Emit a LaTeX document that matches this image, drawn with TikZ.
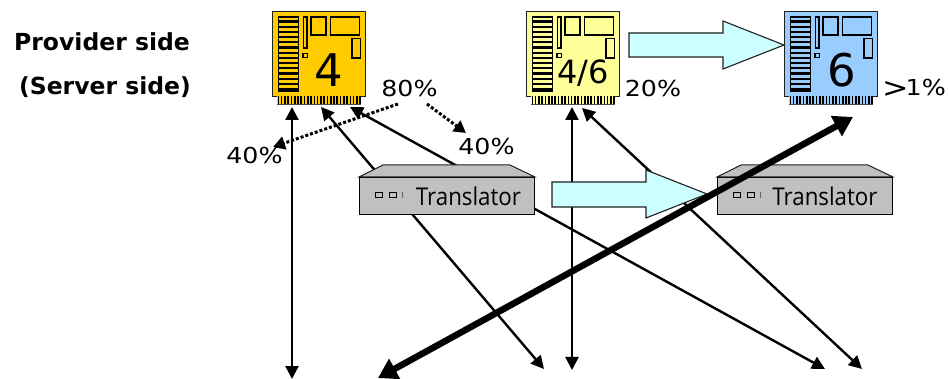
\documentclass[tikz,border=0pt]{standalone}
\usepackage{graphicx}
\usepackage{fontspec}
\setmainfont{DejaVu Sans}
\newfontfamily\trfont[FakeStretch=0.91]{Open Sans}
\newfontfamily\pctfont[FakeStretch=1.15]{DejaVu Sans}
\usetikzlibrary{arrows.meta}
\definecolor{cardorange}{HTML}{FFCC00}
\definecolor{cardyellow}{HTML}{FFFF99}
\definecolor{cardblue}{HTML}{99CCFF}
\definecolor{blockcyan}{HTML}{CCFFFF}
\definecolor{boxgray}{HTML}{C0C0C0}
\definecolor{edgegray}{HTML}{202020}
\tikzset{
  x=1pt,y=-1pt,
  cardbody/.style={draw=edgegray,line width=1pt,inner sep=0pt,minimum width=93pt,minimum height=85pt,anchor=north west},
  part/.style={draw=black,line width=1.1pt},
  flow/.style={line width=2.4pt,{Triangle[length=13pt,width=13pt]}-{Triangle[length=13pt,width=13pt]}},
  heavy/.style={line width=6.5pt,{Triangle[length=19pt,width=22pt]}-{Triangle[length=19pt,width=22pt]}},
  share/.style={line width=3pt,dash pattern=on 3pt off 2pt,-{Triangle[length=12pt,width=13pt]}},
  block/.style={draw=edgegray,line width=1.1pt,fill=blockcyan},
  trbox/.style={draw=black,line width=1pt,fill=boxgray,inner sep=0pt,minimum width=175pt,minimum height=37pt,anchor=north west},
  trtop/.style={draw=edgegray,line width=1pt,fill=boxgray},
  trtext/.style={font=\trfont\fontsize{24.5}{26}\selectfont,inner sep=0pt,text=black},
  pct/.style={font=\pctfont\fontsize{22}{24}\selectfont,inner sep=0pt},
  digit/.style={inner sep=0pt},
  heading/.style={font=\bfseries\fontsize{23.5}{26}\selectfont,inner sep=0pt},
}
\newcommand{\drawcard}[3]{%
  \node[cardbody,fill=#2] (#3) at (#1,11) {};
  \begin{scope}[shift={(#1,0)}]
    \fill[#2] (5,96) rectangle (89,104);
    \foreach \t in {0,...,25} {\fill[black] ({5.6+\t*3.27},96) rectangle ++(1.6,8);}
    \draw[black!70,line width=0.8pt] (5,104) -- (89,104);
    \draw[part] (6.7,17) rectangle (26.7,91);
    \foreach \s in {0,...,13} {\fill[black] (6.7,{20.5+\s*5.2}) rectangle (26.7,{22.7+\s*5.2});}
    \draw[part] (31.7,17) rectangle (35,48);
    \draw[part] (39,17) rectangle (54,35);
    \draw[part] (58.7,17) rectangle (87.3,35);
    \draw[part] (80,38.7) rectangle (88.3,58);
    \draw[part] (31,53.3) rectangle (35.7,57.7);
  \end{scope}
}
\newcommand{\drawtranslator}[2]{%
  \node[trbox] (#2) at (#1,177) {};
  \draw[trtop] (#2.north west) -- ++(24,-12) -- ++(127,0) -- (#2.north east) -- cycle;
  \begin{scope}[shift={(#1,0)}]
    \draw[black,line width=0.9pt,fill=boxgray] (16.5,192.5) rectangle (23,197.5);
    \draw[black,line width=0.9pt,fill=boxgray] (30.5,192.5) rectangle (37,197.5);
    \draw[black!60,line width=0.6pt] (43,192) -- (43,198);
  \end{scope}
}
\begin{document}
\begin{tikzpicture}
\useasboundingbox (0,0) rectangle (948,379);
% free ends of the connectors
\coordinate (v1t) at (292,107);
\coordinate (v1b) at (292,379);
\coordinate (d1a) at (321,107);
\coordinate (d1b) at (544,369);
\coordinate (d2a) at (350,107);
\coordinate (d2b) at (825,369);
\coordinate (v2t) at (572,107);
\coordinate (v2b) at (572,370);
\coordinate (d3a) at (582,108);
\coordinate (d3b) at (862,369);
\coordinate (ha) at (853,117);
\coordinate (hb) at (378,378);
\coordinate (s0a) at (398,104);
\coordinate (s0b) at (273,147);
\coordinate (s1a) at (427,104);
\coordinate (s1b) at (466,133);
% thin connectors lie beneath the boxes
\draw[flow] (v1t) -- (v1b);
\draw[flow] (v2t) -- (v2b);
\draw[flow] (d1a) -- (d1b);
\draw[flow] (d2a) -- (d2b);
\draw[flow] (d3a) -- (d3b);
\drawcard{272}{cardorange}{cardA}
\drawcard{526}{cardyellow}{cardB}
\drawcard{784}{cardblue}{cardC}
\node[digit,font=\fontsize{45}{50}\selectfont] (n4) at (329,70) {4};
\node[digit,font=\fontsize{32}{36}\selectfont] (n46) at (583,73) {4/6};
\node[digit,font=\fontsize{45}{50}\selectfont] (n6) at (842,70) {6};
% block arrows
\draw[block] (629,33) -- (723,33) -- (723,21) -- (784,45) -- (723,69) -- (723,57) -- (629,57) -- cycle;
\draw[block] (552,182) -- (646,182) -- (646,170) -- (707,194) -- (646,218) -- (646,207) -- (552,207) -- cycle;
\drawtranslator{359}{trA}
\drawtranslator{717}{trB}
\node[trtext] (trAt) at (468.5,196) {Translator};
\node[trtext] (trBt) at (825,196) {Translator};
% share arrows
\draw[share] (s0a) -- (s0b);
\draw[share] (s1a) -- (s1b);
% heavy connector on top
\draw[heavy] (ha) -- (hb);
% labels
\node[heading] (h1) at (102,42) {Provider side};
\node[heading] (h2) at (105,87) {(Server side)};
\node[pct] (p80) at (409.5,88) {80\%};
\node[pct] (p20) at (653,88) {20\%};
\node[pct] (p1) at (914,88) {\raisebox{-2pt}{\scalebox{1.25}{>}}\hspace{-3pt}1\%};
\node[pct] (p40a) at (254.5,155) {40\%};
\node[pct] (p40b) at (486.5,146) {40\%};
\end{tikzpicture}
\end{document}
